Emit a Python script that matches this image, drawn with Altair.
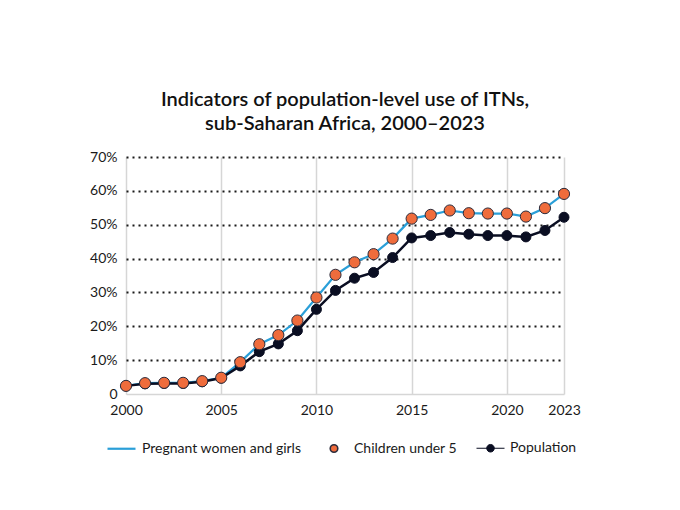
import altair as alt
import pandas as pd

years = list(range(2000, 2024))
children = [2.4, 3.2, 3.3, 3.3, 3.8, 4.8, 9.4, 14.7, 17.4, 21.7, 28.5, 35.2, 38.9, 41.3,
            45.9, 51.8, 52.9, 54.2, 53.4, 53.3, 53.3, 52.4, 54.9, 59.1]
pregnant = [2.4, 3.2, 3.3, 3.3, 3.8, 4.8, 9.4, 14.7, 17.4, 21.7, 28.5, 35.2, 38.9, 41.3,
            45.9, 51.8, 52.9, 54.2, 53.4, 53.3, 53.3, 52.4, 54.9, 59.1]
population = [2.4, 3.0, 3.1, 3.1, 3.6, 4.7, 8.3, 12.5, 14.8, 18.7, 25.0, 30.6, 34.2, 35.9,
              40.3, 46.1, 46.8, 47.7, 47.2, 46.8, 46.8, 46.4, 48.3, 52.2]
series_names = ["Pregnant women and girls", "Children under 5", "Population"]
x_ticks = [2000, 2005, 2010, 2015, 2020, 2023]
y_ticks = [0, 10, 20, 30, 40, 50, 60, 70]
title_lines = ["Indicators of population-level use of ITNs,", "sub-Saharan Africa, 2000\u20132023"]

BLUE = "#2a9fd8"
ORANGE = "#ef6c3c"
NAVY = "#0a0e22"
FONT = "Lato"

rows = []
for name, vals in zip(series_names, [pregnant, children, population]):
    for y, v in zip(years, vals):
        rows.append({"year": y, "value": v, "series": name})
df = pd.DataFrame(rows)

x_enc = alt.X("year:Q",
              scale=alt.Scale(domain=[2000, 2023], nice=False, zero=False),
              axis=alt.Axis(values=x_ticks, format="d", title=None, grid=True,
                            gridColor="#d6d6d6", gridWidth=1.5, domainColor="#d6d6d6",
                            domainWidth=1.5, ticks=False, labelPadding=9, labelFlush=False,
                            labelFontSize=14, labelColor="#1a1a1a", labelFont=FONT))
y_enc = alt.Y("value:Q",
              scale=alt.Scale(domain=[0, 70], nice=False),
              axis=alt.Axis(values=y_ticks, title=None, domain=False, ticks=False,
                            labelExpr="datum.value == 0 ? '0' : datum.value + '%'",
                            grid=True, gridColor="#1a1a1a", gridWidth=2, gridDash=[2, 4],
                            gridOpacity={"condition": {"test": "datum.value === 0", "value": 0},
                                         "value": 1},
                            labelPadding=9, labelFontSize=14, labelColor="#1a1a1a",
                            labelFlush=False, labelFont=FONT))

base = alt.Chart(df).encode(x=x_enc, y=y_enc)

blue_line = base.transform_filter(alt.datum.series == series_names[0]).mark_line(
    color=BLUE, strokeWidth=2.2)
black_line = base.transform_filter(alt.datum.series == series_names[2]).mark_line(
    color=NAVY, strokeWidth=2.5)
black_pts = base.transform_filter(alt.datum.series == series_names[2]).mark_point(
    filled=True, shape="circle", size=100, fill=NAVY, stroke=NAVY, strokeWidth=1, opacity=1)
orange_pts = base.transform_filter(alt.datum.series == series_names[1]).mark_point(
    filled=True, shape="circle", size=125, fill=ORANGE, stroke="#2b2b3b", strokeWidth=1,
    opacity=1)

line_path = "M-1,0L1,0"
circ = "M0.27,0A0.27,0.27,0,1,1,-0.27,0A0.27,0.27,0,1,1,0.27,0Z"
legend_layer = base.transform_filter("false").mark_point(filled=True, opacity=1).encode(
    shape=alt.Shape("series:N", scale=alt.Scale(domain=series_names,
                                                range=[line_path, circ, line_path + circ]),
                    legend=alt.Legend(title=None, orient="none", direction="horizontal",
                                      legendX=-20, legendY=276, symbolSize=784,
                                      labelFontSize=14, labelFont=FONT, labelColor="#1a1a1a",
                                      columnPadding=17, labelOffset=5)),
    fill=alt.Fill("series:N", scale=alt.Scale(domain=series_names,
                                              range=["transparent", ORANGE, NAVY])),
    stroke=alt.Stroke("series:N", scale=alt.Scale(domain=series_names,
                                                  range=[BLUE, "#2b2b3b", NAVY])),
    strokeWidth=alt.StrokeWidth("series:N", scale=alt.Scale(domain=series_names,
                                                            range=[2.2, 1, 2.5])),
)

chart = alt.layer(blue_line, black_line, black_pts, orange_pts, legend_layer).properties(
    width=438, height=237,
    title=alt.TitleParams(text=title_lines, font=FONT, fontSize=20, fontWeight=600,
                          color="#111111", lineHeight=24, offset=16, anchor="middle"),
    padding={"left": 81, "top": 82, "right": 20, "bottom": 10},
).configure_view(stroke=None).configure_legend(symbolStrokeWidth=2)

chart.save("out.html", embed_options={"renderer": "svg", "actions": False})
